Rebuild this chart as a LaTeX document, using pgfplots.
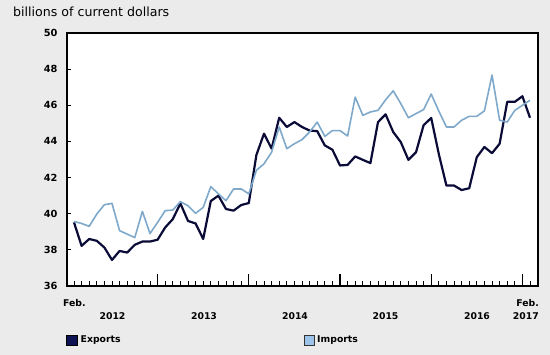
\documentclass[border=0pt]{standalone}
\usepackage{fontspec}
\setmainfont{DejaVu Sans}
\usepackage{pgfplots}
\pgfplotsset{compat=1.18}
\definecolor{bg}{HTML}{EBEBEB}
\definecolor{expc}{HTML}{0B0B38}
\definecolor{impc}{HTML}{7FA9CB}
\definecolor{impsq}{HTML}{9CC4EA}
\definecolor{expsq}{HTML}{0D1254}

\pgfplotstableread{
i exp imp
0 39.52 39.57
1 38.22 39.46
2 38.60 39.30
3 38.50 39.98
4 38.13 40.50
5 37.44 40.57
6 37.94 39.06
7 37.85 38.87
8 38.28 38.68
9 38.46 40.13
10 38.46 38.90
11 38.56 39.52
12 39.24 40.17
13 39.70 40.20
14 40.57 40.67
15 39.60 40.44
16 39.46 40.02
17 38.60 40.35
18 40.70 41.50
19 41.00 41.10
20 40.26 40.72
21 40.17 41.37
22 40.48 41.37
23 40.59 41.10
24 43.25 42.40
25 44.43 42.76
26 43.60 43.40
27 45.31 44.80
28 44.80 43.60
29 45.07 43.87
30 44.80 44.10
31 44.60 44.52
32 44.57 45.07
33 43.78 44.28
34 43.54 44.60
35 42.67 44.60
36 42.70 44.30
37 43.17 46.45
38 42.98 45.44
39 42.80 45.63
40 45.07 45.72
41 45.50 46.30
42 44.52 46.80
43 43.96 46.09
44 42.98 45.31
45 43.40 45.54
46 44.90 45.76
47 45.30 46.62
48 43.30 45.68
49 41.56 44.80
50 41.56 44.80
51 41.31 45.17
52 41.41 45.39
53 43.13 45.39
54 43.69 45.69
55 43.35 47.67
56 43.87 45.17
57 46.19 45.07
58 46.19 45.72
59 46.50 46.00
60 45.31 46.28
}\datatable

\begin{document}
\begin{tikzpicture}[x=1pt,y=1pt]
\useasboundingbox (-67,-69) rectangle (483,286);
\fill[bg] (-67,-69) rectangle (483,286);
\begin{axis}[at={(0,0)}, anchor=south west, scale only axis,
  width=471pt, height=253pt,
  xmin=-0.92, xmax=61.05, ymin=36, ymax=50,
  axis background/.style={fill=white},
  axis line style={line width=1.2pt, black},
  ytick={36,38,...,50}, ytick pos=left, xtick pos=bottom,
  tick align=inside,
  xtick={0,...,60},
  xticklabels={},
  major tick length=4.5pt,
  tick style={black, line width=0.8pt},
  extra x ticks={11,23,35,47,59},
  extra x tick labels={},
  extra x tick style={major tick length=12pt, tick style={black, line width=1.2pt}},
  yticklabel style={font=\bfseries\fontsize{9.8}{11}\selectfont, xshift=-6pt},
  /pgf/number format/assume math mode=true,
  clip=false,
]
\addplot[expc, line width=2.2pt, line join=round] table[x=i, y=exp] {\datatable};
\addplot[impc, line width=1.6pt, line join=round] table[x=i, y=imp] {\datatable};
\end{axis}
\begin{scope}[every node/.style={inner sep=0pt, font=\bfseries\fontsize{9.3}{11}\selectfont}]
\node[anchor=center] at (112.5-67,-30) {2012};
\node[anchor=center] at (204-67,-30) {2013};
\node[anchor=center] at (295-67,-30) {2014};
\node[anchor=center] at (385.5-67,-30) {2015};
\node[anchor=center] at (477-67,-30) {2016};
\node[anchor=east] at (472,-30) {2017};
\node[anchor=east] at (472,-17) {Feb.};
\node[anchor=west] at (-4,-17) {Feb.};
\fill[expsq, draw=black, line width=0.4pt] (-1,-59) rectangle (10,-49);
\node[anchor=west] at (13.5,-54) {Exports};
\fill[impsq, draw=black!80, line width=0.8pt] (237,-59) rectangle (247,-49);
\node[anchor=west] at (250,-54) {Imports};
\end{scope}
\node[anchor=west, inner sep=0pt, font=\fontsize{12.6}{14}\selectfont] at (-54,274) {billions of current dollars};
\end{tikzpicture}
\end{document}
